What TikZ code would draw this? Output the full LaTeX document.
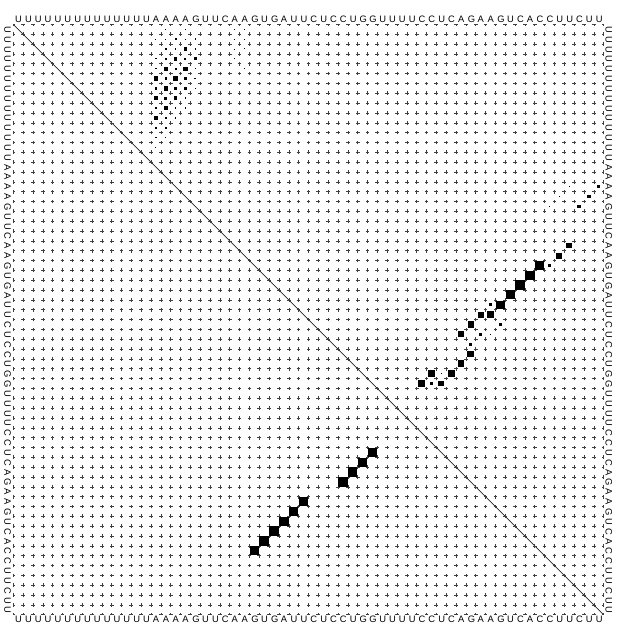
\documentclass[tikz,border=0pt]{standalone}
\usepackage{fontspec}
\setmainfont{Liberation Sans}
\begin{document}
\begin{tikzpicture}[x=7.0820pt,y=7.0820pt,
  seqlbl/.style={inner sep=0pt, outer sep=0pt, anchor=base west, font=\fontsize{6.728pt}{7pt}\selectfont},
  gridln/.style={line width=0.38pt, black!75, dash pattern=on 2.7pt off 4.382pt, dash phase=1.35pt},
  diagln/.style={line width=0.5pt, black!85},
  pbox/.style={fill=black}]
\fill[white] (-1.3472,-1.2060) rectangle (62.4770,62.4770);
\useasboundingbox (-1.3472,-1.2060) rectangle (62.4770,62.4770);
% sequence on all four sides
\foreach \c [count=\kk from 0] in {U,U,U,U,U,U,U,U,U,U,U,U,U,U,A,A,A,A,G,U,U,C,A,A,G,U,G,A,U,U,C,U,C,C,U,G,G,U,U,U,U,C,C,U,C,A,G,A,A,G,U,C,A,C,C,U,U,C,U,U} {
  \node[seqlbl] (top\kk) at (\kk+0.2,60.2) {\c};
  \node[seqlbl] (bot\kk) at (\kk+0.2,-0.8) {\c};
  \node[seqlbl,rotate=-90] (lft\kk) at (-0.9,59.8-\kk) {\c};
  \node[seqlbl,rotate=-90] (rgt\kk) at (60.2,59.8-\kk) {\c};
}
% diagonal
\draw[diagln] (0,60) -- (60,0);
% dotted grid (plus marks)
\foreach \k in {0,...,60} {
  \draw[gridln] (\k,0) -- (\k,60);
  \draw[gridln] (0,60-\k) -- (60,60-\k);
}
% base pair probabilities (upper right): i/j/sqrt(p)
\foreach \i/\j/\s in {
  23/57/0.55, 24/56/0.6, 25/55/0.3, 25/54/0.95, 26/53/0.95, 27/52/0.95, 28/51/0.92,
  29/50/0.85, 29/49/0.3, 30/49/0.75, 30/48/0.6, 31/50/0.28, 31/47/0.62, 32/49/0.15,
  32/48/0.35, 32/46/0.62, 33/47/0.3, 34/47/0.7, 35/46/0.7, 36/45/0.72, 36/44/0.15,
  36/43/0.68, 37/44/0.6, 37/43/0.3, 37/42/0.68,
  17/60/0.3, 18/59/0.35, 19/58/0.35, 17/57/0.12, 18/56/0.15, 19/55/0.15,
  1/16/0.12, 1/18/0.12, 2/15/0.1, 2/17/0.2, 2/19/0.15, 3/16/0.15, 3/18/0.35,
  4/15/0.12, 4/17/0.35, 4/19/0.3, 5/16/0.42, 5/18/0.42, 6/15/0.45, 6/17/0.45, 6/19/0.2,
  7/16/0.45, 7/18/0.3, 8/15/0.45, 8/17/0.35, 9/16/0.38, 9/18/0.12, 10/15/0.42,
  10/17/0.15, 11/16/0.18, 12/15/0.18,
  2/16/0.1, 2/18/0.12, 3/17/0.15, 3/19/0.12, 4/16/0.15, 4/18/0.2, 5/15/0.15,
  5/17/0.22, 5/19/0.15, 6/16/0.22, 6/18/0.25, 7/15/0.28, 7/17/0.25, 7/19/0.1,
  8/16/0.28, 8/18/0.15, 9/15/0.28, 9/17/0.15, 10/16/0.2, 11/15/0.22, 12/16/0.1, 13/15/0.1,
  1/23/0.08, 1/24/0.1, 2/23/0.1, 2/24/0.08, 3/23/0.08, 3/24/0.1, 4/23/0.08, 5/24/0.07}
  \fill[pbox] (\j-0.5-0.5*\s,60.5-\i-0.5*\s) rectangle ++(\s,\s);
% mfe structure (lower left)
\foreach \i/\j in {25/54, 26/53, 27/52, 28/51, 29/50, 30/49, 34/47, 35/46, 36/45, 37/44}
  \fill[pbox] (\i-0.975,60.025-\j) rectangle ++(0.95,0.95);
\end{tikzpicture}
\end{document}
